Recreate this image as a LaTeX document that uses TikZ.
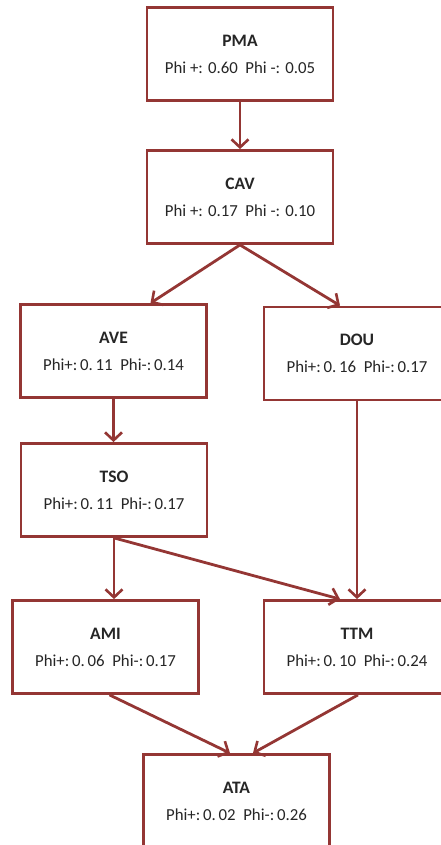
\documentclass[tikz,border=0pt]{standalone}
\usepackage{fontspec}
\setmainfont{Carlito}
\usepackage{xcolor}
\usetikzlibrary{arrows.meta,calc}
\definecolor{boxred}{RGB}{148,54,52}
\tikzset{
	alt/.style={
			draw=boxred, line width=2.8pt, fill=white, align=center,
			minimum width=186pt, minimum height=93pt, inner sep=0pt,
			font=\fontsize{16.8}{27}\selectfont, text=black!85
		},
	flow/.style={
			draw=boxred, line width=2.8pt,
			-{Straight Barb[length=8pt,width=17pt,line width=2.6pt]}
		}
}
\newcommand{\alttext}[2]{{\fontsize{17.5}{27}\selectfont\bfseries #1}\\#2}

\begin{document}
\begin{tikzpicture}[x=1pt,y=-1pt]
			\useasboundingbox (0,0) rectangle (441,845);
			\clip (0,0) rectangle (441,845);

			\node[alt] (PMA) at (240,54) {\alttext{PMA}{Phi +: 0.60\ \ Phi -: 0.05}};
			\node[alt] (CAV) at (240,197) {\alttext{CAV}{Phi +: 0.17\ \ Phi -: 0.10}};
			\node[alt] (AVE) at (113.5,351) {\alttext{AVE}{Phi+:\,0.\,11\ \ Phi-:\,0.14}};
			\node[alt] (DOU) at (357,353.5) {\alttext{DOU}{Phi+:\,0.\,16\ \ Phi-:\,0.17}};
			\node[alt] (TSO) at (114,490) {\alttext{TSO}{Phi+:\,0.\,11\ \ Phi-:\,0.17}};
			\node[alt] (AMI) at (105.5,647) {\alttext{AMI}{Phi+:\,0.\,06\ \ Phi-:\,0.17}};
			\node[alt] (TTM) at (357,647) {\alttext{TTM}{Phi+:\,0.\,10\ \ Phi-:\,0.24}};
			\node[alt] (ATA) at (236.5,801) {\alttext{ATA}{Phi+:\,0.\,02\ \ Phi-:\,0.26}};

			\draw[flow] (PMA.south) -- (CAV.north);
			\draw[flow] (CAV.south) -- ([xshift=37pt]AVE.north);
			\draw[flow] (CAV.south) -- ([xshift=-17pt]DOU.north);
			\draw[flow] (AVE.south) -- (AVE.south |- TSO.north);
			\draw[flow] (DOU.south) -- (DOU.south |- TTM.north);
			\draw[flow] (TSO.south) -- (TSO.south |- AMI.north);
			\draw[flow] (TSO.south) -- ([xshift=-17pt]TTM.north);
			\draw[flow] ([xshift=4pt]AMI.south) -- ([xshift=-6.5pt]ATA.north);
			\draw[flow] ([xshift=1pt]TTM.south) -- ([xshift=16.5pt]ATA.north);
		\end{tikzpicture}
\end{document}
